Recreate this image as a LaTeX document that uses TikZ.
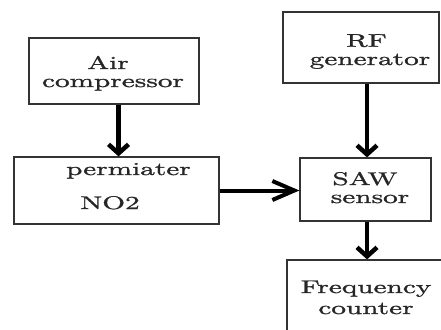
\documentclass[tikz,border=0pt]{standalone}
\usepackage{fontspec}
\setmainfont{lmroman10-regular.otf}[FakeStretch=1.6,FakeBold=1.3]
\usetikzlibrary{arrows.meta,shadows}
\tikzset{
  box/.style={draw=black!80, line width=1.2pt, fill=white, inner sep=0pt,
    drop shadow={shadow xshift=1.2pt, shadow yshift=-1.2pt, opacity=0.25}},
  txt/.style={anchor=base, inner sep=0pt, text=black!85, font=\fontsize{18.3}{19}\selectfont},
  varr/.style={line width=4.5pt, -{Straight Barb[length=9pt,width=20pt]}},
  harr/.style={line width=4pt, -{Straight Barb[length=22pt,width=19pt]}}
}
\begin{document}
\begin{tikzpicture}[x=1pt,y=-1pt]
\fill[white] (0,0) rectangle (441,329);
\useasboundingbox (0,0) rectangle (441,329);
\clip (0,0) rectangle (441,329);
% boxes
\node[box, minimum width=170pt, minimum height=66pt] (air) at (114,71) {};
\node[box, minimum width=156pt, minimum height=71pt] (rf) at (361,47.5) {};
\node[box, minimum width=205pt, minimum height=67pt] (perm) at (116.5,190.5) {};
\node[box, minimum width=131pt, minimum height=63pt] (saw) at (365.5,189.5) {};
\node[box, minimum width=156pt, minimum height=80pt] (freq) at (365,300) {};
% texts
\node[txt] (tair1) at (108,69) {Air};
\node[txt] (tair2) at (113,87) {compressor};
\node[txt] (trf1) at (366.5,46.7) {RF};
\node[txt] (trf2) at (370,65) {generator};
\node[txt] (tperm1) at (128.5,175) {permiater};
\node[txt] (tperm2) at (110,209) {NO2};
\node[txt] (tsaw1) at (365,185) {SAW};
\node[txt] (tsaw2) at (370,203) {sensor};
\node[txt] (tfreq1) at (366,293) {Frequency};
\node[txt] (tfreq2) at (366,314) {counter};
% arrows
\draw[varr] ([xshift=4.5pt]air.south) -- ([xshift=4.5pt]air.south |- perm.north);
\draw[varr] ([xshift=6pt]rf.south) -- ([xshift=6pt]rf.south |- saw.north);
\draw[harr] (perm.east) -- (saw.west |- perm.east);
\draw[varr] ([xshift=1.5pt]saw.south) -- ([xshift=1.5pt]saw.south |- freq.north);
\end{tikzpicture}
\end{document}
